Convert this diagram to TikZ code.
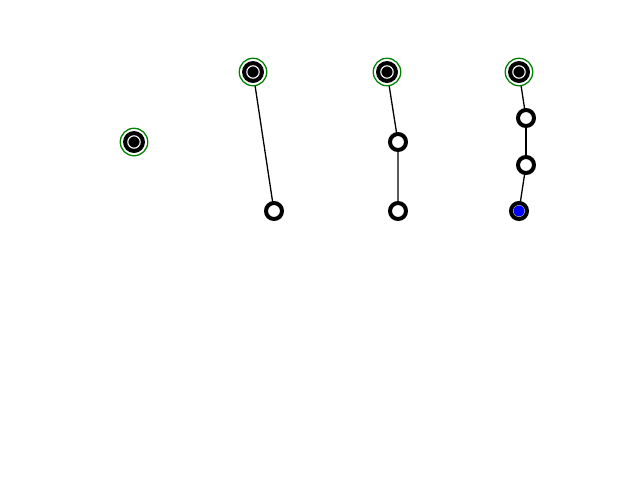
\documentclass[tikz,border=0pt]{standalone}
\usepackage{tikz}
\usetikzlibrary{backgrounds}

\definecolor{ringgreen}{RGB}{0,128,0}

\tikzset{
  root/.style={circle,draw=ringgreen,line width=1.3pt,fill=white,
    minimum size=27.5pt,inner sep=0pt,
    path picture={
      \fill[black] (path picture bounding box.center) circle (11pt);
      \draw[white,line width=1.1pt] (path picture bounding box.center) circle (6.2pt);}},
  leaf/.style={circle,draw=black,line width=4pt,fill=white,
    minimum size=16pt,inner sep=0pt},
  goal/.style={leaf,fill=blue,
    path picture={
      \draw[white,line width=0.8pt] (path picture bounding box.center) circle (6pt);}},
  link/.style={black,line width=1.3pt}
}

\begin{document}
\begin{tikzpicture}[x=1pt,y=-1pt]
\useasboundingbox (0,0) rectangle (640,480);

% one node
\node[root] (a1) at (134,142) {};

% two nodes
\node[root] (b1) at (253,72) {};
\node[leaf] (b2) at (274,211) {};

% three nodes
\node[root] (c1) at (387,72) {};
\node[leaf] (c2) at (398,142) {};
\node[leaf] (c3) at (398,211) {};

% four nodes
\node[root] (d1) at (519,72) {};
\node[leaf] (d2) at (526,118) {};
\node[leaf] (d3) at (526,165) {};
\node[goal] (d4) at (519,211) {};

% links behind the nodes
\begin{scope}[on background layer]
\draw[link] (b1.center) -- (b2.center);
\draw[link] (c1.center) -- (c2.center) -- (c3.center);
\foreach \u/\v in {d1/d2, d2/d3, d3/d4}
    \draw[link] (\u.center) -- (\v.center);
\end{scope}
\end{tikzpicture}
\end{document}
